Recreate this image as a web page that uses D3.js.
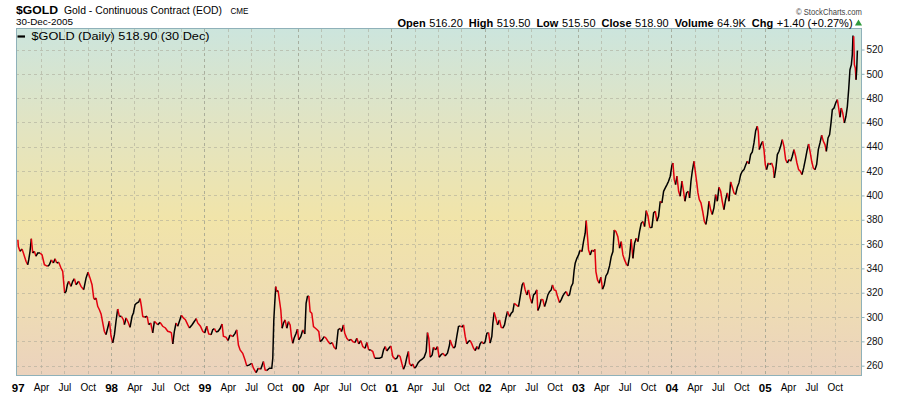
<!DOCTYPE html>
<html>
<head>
<meta charset="UTF-8">
<title>$GOLD Gold - Continuous Contract (EOD)</title>
<script src="https://d3js.org/d3.v7.min.js"></script>
<style>
  body { margin: 0; background: #fff; }
  svg text { font-family: "Liberation Sans", Arial, sans-serif; }
</style>
</head>
<body>
<svg id="chart" width="900" height="396"></svg>
<script>
// daily close of the continuous contract, sampled off the chart: [fractional year, close]
const closes = [
  [1997.002,363.6],[1997.007,358],[1997.025,354],[1997.046,356],[1997.061,352.6],[1997.089,345.8],[1997.107,343],[1997.118,347],[1997.132,354],[1997.146,364.4],
  [1997.161,352.6],[1997.178,354],[1997.196,350],[1997.214,352.6],[1997.239,352.6],[1997.261,351],[1997.286,343],[1997.321,341.7],[1997.339,343],[1997.361,347],
  [1997.382,344.4],[1997.400,348],[1997.418,344.4],[1997.439,345],[1997.464,340.3],[1997.482,337.6],[1997.493,328],[1997.503,319.8],[1997.518,321],[1997.532,326.6],
  [1997.546,329.4],[1997.571,325.2],[1997.589,329.4],[1997.607,331.5],[1997.625,326.6],[1997.653,329.4],[1997.678,325.2],[1997.707,322.5],[1997.732,332],[1997.753,336.8],
  [1997.775,332],[1997.796,326.6],[1997.814,315.7],[1997.825,314.3],[1997.839,315.7],[1997.857,308.8],[1997.875,306],[1997.893,302.5],[1997.911,295.1],[1997.928,288.3],
  [1997.946,285.5],[1997.964,291],[1997.982,296.5],[1998.000,284.2],[1998.018,278.7],[1998.036,285.5],[1998.053,296.5],[1998.071,306.6],[1998.089,300.6],[1998.111,300.6],
  [1998.132,297.8],[1998.143,293.7],[1998.161,299.2],[1998.182,295.9],[1998.203,291.5],[1998.225,300.6],[1998.239,303.3],[1998.257,310.2],[1998.275,311.5],[1998.296,312.4],
  [1998.311,315.1],[1998.325,308.8],[1998.339,300.6],[1998.361,299.8],[1998.386,300.6],[1998.403,293.7],[1998.425,295.1],[1998.446,286.9],[1998.464,296.5],[1998.482,295.1],
  [1998.500,293.7],[1998.525,295.6],[1998.553,292.4],[1998.582,291],[1998.607,288.3],[1998.632,287.7],[1998.646,286.9],[1998.661,277.8],[1998.678,288.3],[1998.696,295.1],
  [1998.714,292.4],[1998.732,296.5],[1998.753,301.4],[1998.775,299.2],[1998.796,297.8],[1998.821,293.7],[1998.839,291],[1998.868,293.7],[1998.893,296.5],[1998.911,298.7],
  [1998.928,295.1],[1998.957,292.4],[1998.982,288.3],[1999.003,286.9],[1999.025,292.4],[1999.046,286.1],[1999.071,285.5],[1999.089,289.6],[1999.107,290.5],[1999.125,287.7],
  [1999.146,288.3],[1999.168,290.5],[1999.189,294.3],[1999.203,284.2],[1999.232,283.3],[1999.253,280.6],
  [1999.275,285.3],[1999.303,283.9],[1999.328,286.6],[1999.346,289.4],[1999.364,277],[1999.382,272.9],[1999.410,270.2],[1999.435,264.7],[1999.453,259.8],[1999.482,260.6],
  [1999.507,262],[1999.525,257.9],[1999.553,254.3],[1999.578,257.9],[1999.603,257.1],[1999.632,263.4],[1999.650,256.5],[1999.668,256],[1999.696,257.9],[1999.721,257.9],
  [1999.732,266.1],[1999.743,297.6],[1999.753,311.3],[1999.764,325],[1999.775,320.9],[1999.789,321.7],[1999.803,314],[1999.818,305.8],[1999.832,290.8],[1999.846,294.9],
  [1999.864,297.6],[1999.882,290.8],[1999.900,296.2],[1999.918,293.5],[1999.932,283.9],[1999.946,278.4],[1999.960,282.5],[1999.982,286.6],[1999.996,289.9],[2000.010,281.2],
  [2000.032,283.9],[2000.053,289.4],[2000.075,286.1],[2000.089,311.3],[2000.103,316.8],[2000.118,317.3],[2000.132,304.5],[2000.150,303.1],[2000.168,292.1],[2000.189,290.8],
  [2000.210,289.4],[2000.225,288],[2000.239,279.8],[2000.260,281.2],[2000.282,283.9],[2000.303,282.5],[2000.325,279.8],[2000.346,277.9],[2000.368,279],[2000.389,275.1],
  [2000.410,273.5],[2000.432,289.4],[2000.453,290.8],[2000.468,288],[2000.489,293.5],[2000.503,286.6],[2000.525,282.5],[2000.546,280.6],[2000.568,281.7],[2000.589,279.8],
  [2000.614,279],[2000.632,282.5],[2000.653,277.9],[2000.675,280.6],[2000.696,275.7],[2000.721,274.3],[2000.739,279],[2000.760,272.9],[2000.782,272.9],[2000.803,271.6],
  [2000.825,266.1],[2000.846,266.1],[2000.875,266.1],[2000.900,266.9],[2000.918,272.9],[2000.936,275.7],[2000.953,272.1],[2000.975,274.3],[2000.996,276.2],[2001.018,267.5],
  [2001.043,265.3],[2001.060,266.1],[2001.078,268.8],[2001.096,267.5],[2001.114,262],[2001.132,257.1],[2001.150,260.6],[2001.168,266.9],[2001.185,271.6],[2001.196,262],
  [2001.214,259.8],[2001.232,261.4],[2001.250,257.9],[2001.268,259.2],[2001.289,262.5],[2001.310,264.2],[2001.332,265.3],[2001.353,266.9],[2001.375,271.6],[2001.389,287.2],
  [2001.403,282.5],[2001.418,266.9],[2001.439,268.8],[2001.453,275.1],[2001.475,272.9],[2001.496,275.7],[2001.514,266.9],[2001.532,268.8],[2001.553,270.2],[2001.578,268],
  [2001.603,270.2],[2001.625,277],
  [2001.632,281.2],[2001.650,277.1],[2001.668,274.4],[2001.685,275.7],[2001.703,284],[2001.721,292.2],[2001.739,292.7],[2001.757,291.6],[2001.775,293.5],[2001.793,284],
  [2001.810,277.9],[2001.828,279.8],[2001.846,280.7],[2001.864,277.9],[2001.882,274.4],[2001.900,272.4],[2001.918,275.7],[2001.935,273.5],[2001.953,277.9],[2001.971,279.8],
  [2001.989,277.9],[2002.007,279.8],[2002.025,286.7],[2002.043,287.2],[2002.060,278.5],[2002.078,284],[2002.089,294.9],[2002.103,303.7],[2002.121,299],[2002.139,293.5],
  [2002.160,297.6],[2002.178,291.6],[2002.196,290.8],[2002.214,293.5],[2002.228,299],[2002.246,304.5],[2002.268,300.4],[2002.286,303.1],[2002.303,304.5],[2002.318,311.3],
  [2002.339,310],[2002.364,308.6],[2002.382,316.8],[2002.403,326.4],[2002.418,328.3],[2002.435,322.3],[2002.453,318.2],[2002.471,322.3],[2002.489,315.5],[2002.507,311.3],
  [2002.525,318.2],[2002.543,319.6],[2002.560,322.3],[2002.571,305.3],[2002.589,308.6],[2002.607,314.6],[2002.625,314.1],[2002.643,308.6],[2002.660,312.7],[2002.678,318.2],
  [2002.696,320.9],[2002.714,322.3],[2002.728,326.4],[2002.746,322.3],[2002.764,321.7],[2002.782,316.8],[2002.803,311.9],[2002.821,314.1],[2002.839,317.4],[2002.857,319.6],
  [2002.875,320.9],[2002.893,317.4],[2002.910,318.2],[2002.928,325],[2002.946,327.8],[2002.960,338.7],[2002.971,344.2],[2002.989,348.3],[2003.007,351.1],[2003.025,355.2],
  [2003.043,353.8],[2003.060,362],[2003.078,368.9],[2003.089,379.3],[2003.100,368.9],[2003.114,355.2],[2003.132,351.1],[2003.150,355.2],[2003.168,353.8],[2003.182,355.7],
  [2003.193,337.4],[2003.210,330.5],[2003.228,327.8],[2003.246,332.7],[2003.264,322.9],[2003.282,326.4],[2003.300,333.8],[2003.318,336],[2003.339,342],[2003.357,349.7],
  [2003.375,353.8],[2003.389,371.6],[2003.407,370.3],[2003.428,366.1],[2003.446,356.6],[2003.464,362],[2003.482,351.1],[2003.500,347],[2003.518,343.7],[2003.535,342],
  [2003.553,349.7],[2003.571,364],[2003.589,348.3],[2003.607,360.7],[2003.625,364.8],[2003.643,362],[2003.660,370.3],[2003.678,377.1],[2003.696,378.5],[2003.714,374.4],
  [2003.732,387.5],[2003.750,383.1],[2003.768,374.4],
  [2003.775,373.3],[2003.793,373.9],[2003.811,385.6],[2003.829,387],[2003.846,378.8],[2003.864,382.9],[2003.882,395.2],[2003.900,393.9],[2003.918,403.4],[2003.936,406.2],
  [2003.954,408.9],[2003.971,411.7],[2003.989,415.8],[2004.007,424.8],[2004.018,426.7],[2004.032,413],[2004.046,408.9],[2004.061,415.8],[2004.079,403.4],[2004.096,399.3],
  [2004.114,411.7],[2004.132,403.4],[2004.146,395.2],[2004.164,402.1],[2004.182,403.4],[2004.196,397.9],[2004.211,411.7],[2004.225,419.9],[2004.243,428.1],[2004.257,419.9],
  [2004.271,411.7],[2004.286,402.1],[2004.300,396.6],[2004.318,393.9],[2004.336,387],[2004.354,378.8],[2004.371,376.1],[2004.389,384.3],[2004.404,395.2],[2004.421,388.4],
  [2004.439,384.3],[2004.457,389.8],[2004.475,400.7],[2004.493,395.2],[2004.511,406.7],[2004.529,403.4],[2004.546,395.2],[2004.564,388.4],[2004.582,396.6],[2004.600,402.1],
  [2004.618,395.2],[2004.636,411.1],[2004.654,406.7],[2004.671,402.1],[2004.689,400.7],[2004.707,406.7],[2004.725,410.3],[2004.743,417.1],[2004.761,419.9],[2004.779,421.2],
  [2004.796,424.8],[2004.814,428.1],[2004.832,425.9],[2004.850,433.6],[2004.868,435.8],[2004.886,443.2],[2004.904,453.3],[2004.921,456.9],[2004.932,452.8],[2004.943,437.7],
  [2004.961,441.8],[2004.979,444.5],[2004.993,437.7],[2005.007,425.4],[2005.021,421.2],[2005.039,426.7],[2005.057,425.4],[2005.075,426.7],[2005.093,422.6],[2005.104,414.4],
  [2005.121,422.6],[2005.136,433.6],[2005.154,436.3],[2005.171,440.4],[2005.189,445.9],[2005.207,440.4],[2005.225,429.5],[2005.243,426.7],[2005.261,429.5],[2005.279,428.1],
  [2005.296,432.2],[2005.314,437.7],[2005.332,432.2],[2005.346,426.7],[2005.364,421.2],[2005.382,419.9],[2005.400,417.1],[2005.418,422.6],[2005.436,429.5],[2005.454,436.9],
  [2005.471,442.3],[2005.489,435],[2005.504,428.1],[2005.521,422.6],[2005.539,421.2],[2005.557,425.4],[2005.575,437.7],[2005.593,443.2],[2005.611,449.5],[2005.629,444.5],
  [2005.646,441.8],[2005.661,436.3],[2005.679,447.3],[2005.696,450],[2005.711,459.6],[2005.725,470.6],[2005.743,471.9],[2005.761,476],[2005.779,478.8],[2005.793,471.9],
  [2005.807,464.3],[2005.821,471.9],[2005.836,467.8],[2005.854,459.6],[2005.871,465.1],[2005.886,473.3],[2005.900,487],[2005.914,503.4],[2005.929,507.6],[2005.939,515.8],
  [2005.946,530.9],[2005.954,530.9],[2005.961,507.6],[2005.971,504.8],[2005.979,495.2],[2005.986,503.4],[2005.993,518.5],[2005.998,518.9]
];

const priceTicks = [260, 280, 300, 320, 340, 360, 380, 400, 420, 440, 460, 480, 500, 520];
const yearLabels = ["97", "98", "99", "00", "01", "02", "03", "04", "05"];
const monthLabels = ["Apr", "Jul", "Oct"];
const quote = [["Open", "516.20"], ["High", "519.50"], ["Low", "515.50"], ["Close", "518.90"], ["Volume", "64.9K"], ["Chg", "+1.40 (+0.27%)"]];

const svg = d3.select("#chart");
const box = { left: 16, right: 862, top: 29, bottom: 376 };

const x = d3.scaleLinear().domain([1997, 2006]).range([17.7, 858]);
const y = d3.scaleLinear().domain([251.5, 537.7]).range([box.bottom, box.top - 1]);

// background gradient of the plot
const grad = svg.append("defs").append("linearGradient")
  .attr("id", "bg").attr("x1", 0).attr("y1", 0).attr("x2", 0).attr("y2", 1);
[["0%", "#cce5dd"], ["28%", "#e2e4c2"], ["55%", "#f1e4a9"], ["80%", "#eedcb4"], ["100%", "#ebd2bd"]]
  .forEach(([o, c]) => grad.append("stop").attr("offset", o).attr("stop-color", c));

svg.append("rect")
  .attr("x", box.left).attr("y", box.top)
  .attr("width", box.right - box.left).attr("height", box.bottom - box.top)
  .attr("fill", "url(#bg)");

// gridlines
const quarters = d3.range(0, 36).map(i => 1997 + i * 0.25);
svg.append("g").selectAll("line")
  .data(priceTicks)
  .join("line")
  .attr("x1", box.left).attr("x2", box.right)
  .attr("y1", d => Math.round(y(d)) + 0.5).attr("y2", d => Math.round(y(d)) + 0.5)
  .attr("stroke", "#a9a898").attr("stroke-opacity", 0.55)
  .attr("stroke-dasharray", "3,3");

svg.append("g").selectAll("line")
  .data(quarters.filter(q => q > 1997))
  .join("line")
  .attr("x1", d => Math.round(x(d)) + 0.5).attr("x2", d => Math.round(x(d)) + 0.5)
  .attr("y1", box.top).attr("y2", box.bottom)
  .attr("stroke", d => d % 1 === 0 ? "#9a9c8c" : "#a9a898")
  .attr("stroke-opacity", d => d % 1 === 0 ? 0.75 : 0.55)
  .attr("stroke-dasharray", "3,3");

// price line, black on up days and red on down days
const runs = [];
d3.pairs(closes).forEach(([a, b]) => {
  const colour = b[1] >= a[1] ? "#000" : "#e3000f";
  const last = runs[runs.length - 1];
  if (last && last.colour === colour) last.points.push(b);
  else runs.push({ colour, points: [a, b] });
});

const line = d3.line().x(d => x(d[0])).y(d => y(d[1]));
svg.append("g").selectAll("path")
  .data(runs)
  .join("path")
  .attr("d", d => line(d.points))
  .attr("fill", "none")
  .attr("stroke", d => d.colour)
  .attr("stroke-width", 1.5)
  .attr("stroke-linejoin", "miter");

// plot border
svg.append("rect")
  .attr("x", box.left + 0.5).attr("y", box.top - 0.5)
  .attr("width", box.right - box.left - 1).attr("height", box.bottom - box.top)
  .attr("fill", "none").attr("stroke", "#8fb1b9");

// right price axis
const yAxis = svg.append("g")
  .attr("transform", `translate(${box.right - 0.5},0)`)
  .call(d3.axisRight(y).tickValues(priceTicks).tickSize(3).tickPadding(2));
yAxis.select(".domain").remove();
yAxis.selectAll(".tick line").attr("stroke", "#8fb1b9");
yAxis.selectAll(".tick text")
  .attr("font-family", "Liberation Sans, Arial, sans-serif")
  .attr("font-size", 10).attr("fill", "#111");

// bottom date axis
const xAxis = svg.append("g")
  .attr("transform", `translate(0,${box.bottom})`)
  .call(d3.axisBottom(x).tickValues(quarters).tickSize(0).tickPadding(8)
    .tickFormat(d => d % 1 === 0 ? yearLabels[d - 1997] : monthLabels[Math.round((d % 1) / 0.25) - 1]));
xAxis.select(".domain").remove();
xAxis.selectAll(".tick text")
  .attr("font-family", "Liberation Sans, Arial, sans-serif")
  .attr("fill", "#000")
  .attr("font-size", d => d % 1 === 0 ? 11.5 : 10)
  .attr("font-weight", d => d % 1 === 0 ? "bold" : "normal");

// title block
const head = svg.append("g");
head.append("text").attr("x", 16).attr("y", 14)
  .attr("font-family", "DejaVu Serif, serif").attr("font-weight", "bold")
  .attr("font-size", 11.5).attr("textLength", 42).attr("lengthAdjust", "spacingAndGlyphs")
  .text("$GOLD");
head.append("text").attr("x", 64).attr("y", 13.5)
  .attr("font-size", 10).attr("textLength", 158).attr("lengthAdjust", "spacingAndGlyphs")
  .text("Gold - Continuous Contract (EOD)");
head.append("text").attr("x", 230.5).attr("y", 13.5)
  .attr("font-size", 8.5).attr("textLength", 18).attr("lengthAdjust", "spacingAndGlyphs")
  .text("CME");
head.append("text").attr("x", 16).attr("y", 24.5)
  .attr("font-size", 9.5).attr("textLength", 57).attr("lengthAdjust", "spacingAndGlyphs")
  .text("30-Dec-2005");

head.append("text").attr("x", 862).attr("y", 14.5)
  .attr("text-anchor", "end").attr("font-size", 9).attr("fill", "#444")
  .attr("textLength", 66).attr("lengthAdjust", "spacingAndGlyphs")
  .text("\u00a9 StockCharts.com");

const q = head.append("text").attr("x", 397.5).attr("y", 26.5).attr("font-size", 11).attr("fill", "#000");
quote.forEach(([label, value], i) => {
  q.append("tspan").attr("font-weight", "bold").attr("dx", i === 0 ? 0 : 6).text(label);
  q.append("tspan").attr("dx", 3.5).text(value);
});
head.append("path")
  .attr("d", d3.symbol(d3.symbolTriangle, 22)())
  .attr("transform", "translate(858.5,23.5)")
  .attr("fill", "#2f9a3c");

// legend
svg.append("line")
  .attr("x1", 17.5).attr("x2", 25).attr("y1", 36.5).attr("y2", 36.5)
  .attr("stroke", "#000").attr("stroke-width", 2.2);
svg.append("text").attr("x", 31.5).attr("y", 40)
  .attr("font-family", "DejaVu Sans, sans-serif").attr("font-size", 10)
  .attr("textLength", 178).attr("lengthAdjust", "spacingAndGlyphs")
  .text("$GOLD (Daily) 518.90 (30 Dec)");
</script>
</body>
</html>
